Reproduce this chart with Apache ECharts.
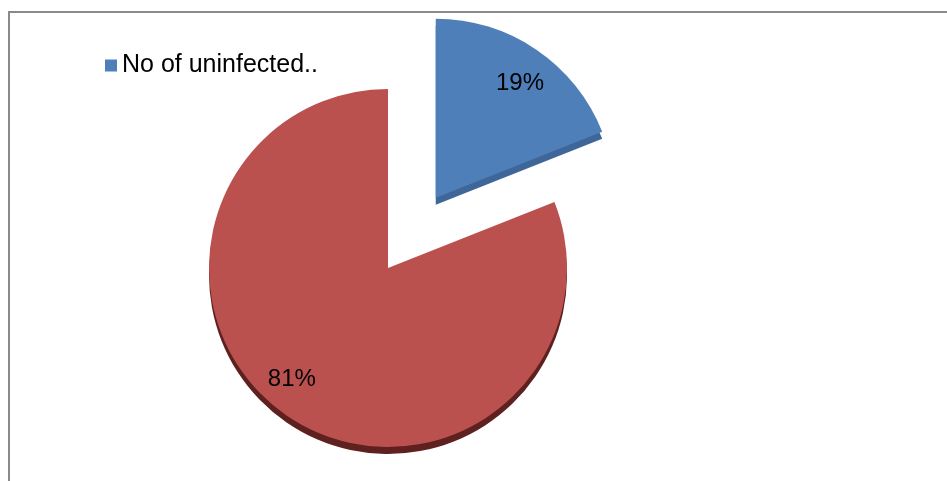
<!DOCTYPE html>
<html>
<head>
<meta charset="utf-8">
<script src="https://cdn.jsdelivr.net/npm/echarts@6/dist/echarts.min.js"></script>
<style>
  html, body { margin: 0; padding: 0; background: #fff; }
  #chart { width: 947px; height: 481px; }
</style>
</head>
<body>
<div id="chart"></div>
<script>
// ---- data ----
const categories = ['No of uninfected..', 'No of infected'];
const values = [19, 81];
const legendNames = ['No of uninfected..'];
const explodedIndex = 0;

// ---- styles ----
const topColors = ['#4F7FB8', '#BA514F'];
const sideColors = ['#3F6699', '#5E2120'];
const labelOffsets = [[2, 7], [-14, -10]];
const CX = 388, CY = 268, R = 179, OFFSET = 85, DEPTH = 7;

function makeData(colors, transparent) {
  return categories.map((name, i) => {
    const item = {
      name: name,
      value: values[i],
      selected: i === explodedIndex,
      itemStyle: { color: transparent ? 'rgba(0,0,0,0)' : colors[i] }
    };
    if (transparent) {
      item.label = { offset: labelOffsets[i] };
      item.select = { label: { offset: labelOffsets[i] }, itemStyle: { color: 'rgba(0,0,0,0)' } };
    } else {
      item.select = { itemStyle: { color: colors[i] } };
    }
    return item;
  });
}

const common = {
  type: 'pie',
  startAngle: 90,
  clockwise: true,
  selectedMode: 'single',
  selectedOffset: OFFSET,
  animation: false,
  silent: true,
  emphasis: { disabled: true },
  labelLine: { show: false }
};

const chart = echarts.init(document.getElementById('chart'), null, { renderer: 'canvas' });
chart.setOption({
  backgroundColor: '#ffffff',
  animation: false,
  graphic: [{
    type: 'polyline',
    shape: { points: [[9, 481], [9, 12], [947, 12]] },
    style: { stroke: '#8a8a8a', lineWidth: 2, fill: null },
    silent: true
  }],
  legend: {
    data: legendNames.map((n, i) => ({ name: n, itemStyle: { color: topColors[i] } })),
    left: 100,
    top: 48,
    icon: 'rect',
    itemWidth: 12,
    itemHeight: 12,
    itemGap: 5,
    selectedMode: false,
    textStyle: { fontFamily: 'Liberation Sans, Arial, sans-serif', fontSize: 25, color: '#000' }
  },
  series: [
    Object.assign({}, common, {
      name: 'top',
      z: 3,
      center: [CX, CY],
      radius: [0, R],
      label: { show: false },
      data: makeData(topColors, false)
    }),
    Object.assign({}, common, {
      name: 'side',
      z: 1,
      center: [CX, CY + DEPTH],
      radius: [0, R],
      label: { show: false },
      data: makeData(sideColors, false)
    }),
    Object.assign({}, common, {
      name: 'labels',
      z: 4,
      center: [CX, CY],
      radius: [R * 0.6, R],
      label: {
        show: true,
        position: 'inside',
        formatter: p => Math.round(p.percent) + '%',
        fontFamily: 'Liberation Sans, Arial, sans-serif',
        fontSize: 24,
        color: '#000'
      },
      data: makeData(topColors, true)
    })
  ]
});
</script>
</body>
</html>
